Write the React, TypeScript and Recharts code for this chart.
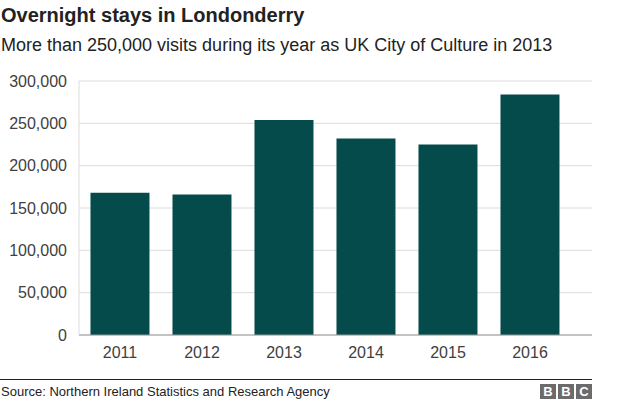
import { BarChart, Bar, XAxis, YAxis, CartesianGrid } from "recharts";

const YEARS = ["2011", "2012", "2013", "2014", "2015", "2016"];
const STAYS = [168000, 166000, 254000, 232000, 225000, 284000];
const Y_TICKS = [0, 50000, 100000, 150000, 200000, 250000, 300000];

const FONT = "'Liberation Sans', Arial, Helvetica, sans-serif";

export default function App() {
  const data = YEARS.map((year, i) => ({ year, stays: STAYS[i] }));

  return (
    <div
      style={{
        position: "absolute",
        left: 0,
        top: 0,
        width: 624,
        height: 403,
        background: "#fff",
        fontFamily: FONT,
        overflow: "hidden",
      }}
    >
      <div
        style={{
          position: "absolute",
          left: 1,
          top: 4,
          fontSize: 20,
          fontWeight: 700,
          color: "#222",
        }}
      >
        Overnight stays in Londonderry
      </div>
      <div
        style={{
          position: "absolute",
          left: 1,
          top: 35,
          fontSize: 18,
          color: "#222",
        }}
      >
        More than 250,000 visits during its year as UK City of Culture in 2013
      </div>

      <div style={{ position: "absolute", left: 0, top: 0 }}>
        <BarChart
          width={624}
          height={403}
          data={data}
          margin={{ top: 81, right: 32, bottom: 38, left: 9 }}
          barCategoryGap="14%"
        >
          <CartesianGrid vertical={false} stroke="#dcdcdc" />
          <XAxis
            dataKey="year"
            height={30}
            padding={{ left: 0, right: 21 }}
            tickLine={false}
            tickMargin={6}
            axisLine={{ stroke: "#999" }}
            tick={{ fill: "#404040", fontSize: 16, fontFamily: FONT }}
          />
          <YAxis
            width={70}
            domain={[0, 300000]}
            ticks={Y_TICKS}
            interval={0}
            tickLine={false}
            tickMargin={6}
            axisLine={{ stroke: "#dcdcdc" }}
            tickFormatter={(v: number) => v.toLocaleString("en-GB")}
            tick={{ fill: "#404040", fontSize: 16, fontFamily: FONT }}
          />
          <Bar dataKey="stays" fill="#054b4c" isAnimationActive={false} />
        </BarChart>
      </div>

      <div
        style={{
          position: "absolute",
          left: 0,
          top: 379,
          width: 592,
          borderTop: "1px solid #222",
        }}
      />
      <div
        style={{
          position: "absolute",
          left: 1,
          top: 384,
          fontSize: 13,
          color: "#222",
        }}
      >
        Source: Northern Ireland Statistics and Research Agency
      </div>
      <div
        style={{
          position: "absolute",
          left: 540,
          top: 384,
          display: "flex",
          gap: 2,
        }}
      >
        {["B", "B", "C"].map((ch, i) => (
          <div
            key={i}
            style={{
              width: 16,
              height: 15,
              background: "#6b6b6b",
              color: "#fff",
              fontSize: 13,
              fontWeight: 700,
              lineHeight: "15px",
              textAlign: "center",
            }}
          >
            {ch}
          </div>
        ))}
      </div>
    </div>
  );
}
